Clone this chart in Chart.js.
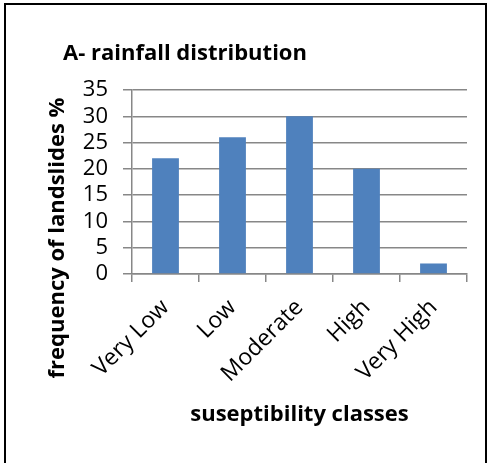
<!DOCTYPE html>
<html>
<head>
<meta charset="utf-8">
<script src="https://cdn.jsdelivr.net/npm/chart.js@4.4.1/dist/chart.umd.min.js"></script>
<style>
  body { margin: 0; background: #fff; }
  #wrap { position: relative; width: 494px; height: 463px; overflow: hidden; }
  #frame {
    position: absolute; left: 4px; top: 3px; width: 479px; height: 480px;
    border: 2px solid #000; pointer-events: none;
  }
  #title {
    position: absolute; left: 63px; top: 36px; line-height: 22px;
    font: bold 22px "Open Sans", sans-serif; color: #000; white-space: nowrap;
  }
  #ytitle {
    position: absolute; left: 55px; top: 238px; line-height: 22px;
    transform: translate(-50%, -50%) rotate(-90deg);
    font: bold 22px "Open Sans", sans-serif; color: #000; white-space: nowrap;
  }
  canvas { position: absolute; left: 0; top: 0; }
</style>
</head>
<body>
<div id="wrap">
  <canvas id="myChart" width="494" height="463"></canvas>
  <div id="frame"></div>
  <div id="title">A- rainfall distribution</div>
  <div id="ytitle">frequency of landslides %</div>
</div>
<script>
const categories = ["Very Low", "Low", "Moderate", "High", "Very High"];
const frequency = [22, 26, 30, 20, 2];
const yMin = 0;
const yMax = 35;
const yStep = 5;

const gridColor = "#878787";

const config = {
  type: "bar",
  data: {
    labels: categories,
    datasets: [
      {
        label: "frequency",
        data: frequency,
        backgroundColor: "#4f81bd",
        borderWidth: 0,
        categoryPercentage: 1,
        barPercentage: 0.4,
      },
    ],
  },
  options: {
    responsive: false,
    animation: false,
    layout: { padding: { left: 40, right: 27, top: 90, bottom: 31 } },
    plugins: { legend: { display: false }, tooltip: { enabled: false } },
    scales: {
      x: {
        grid: {
          drawOnChartArea: false,
          drawTicks: true,
          tickLength: 8,
          color: gridColor,
          lineWidth: 1.5,
        },
        border: { display: true, color: gridColor, width: 1.5 },
        ticks: {
          color: "#000",
          font: { family: "Open Sans", size: 23 },
          minRotation: 45,
          maxRotation: 45,
          padding: 12,
        },
        title: {
          display: true,
          text: "suseptibility classes",
          color: "#000",
          font: { family: "Open Sans", size: 22, weight: "bold" },
          padding: { top: 4, bottom: 4 },
        },
        afterFit: (scale) => {
          scale.height = 158;
        },
      },
      y: {
        min: yMin,
        max: yMax,
        grid: {
          color: gridColor,
          lineWidth: 1.5,
          tickLength: 9,
        },
        border: { display: true, color: gridColor, width: 1.5 },
        ticks: {
          stepSize: yStep,
          autoSkip: false,
          color: "#000",
          font: { family: "Open Sans", size: 22 },
          padding: 15,
        },
        afterFit: (scale) => {
          scale.width = 92;
        },
      },
    },
  },
};

new Chart(document.getElementById("myChart"), config);
</script>
</body>
</html>
